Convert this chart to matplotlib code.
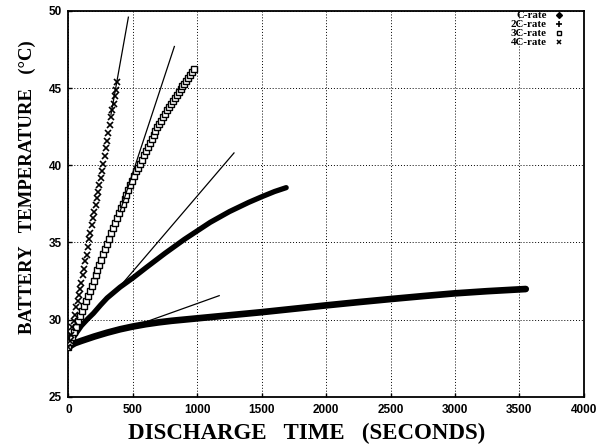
import matplotlib
matplotlib.use('Agg')
import matplotlib.pyplot as plt
from matplotlib.lines import Line2D

# C-rate (1C) discharge
t_1c = [0, 25, 50, 100, 150, 200, 300, 400, 500, 600, 700, 800, 900, 1000,
        1250, 1500, 1750, 2000, 2250, 2500, 2750, 3000, 3250, 3550]
T_1c = [28.2, 28.35, 28.47, 28.62, 28.76, 28.9, 29.15, 29.37, 29.55, 29.7,
        29.82, 29.92, 30.0, 30.08, 30.28, 30.48, 30.7, 30.92, 31.13, 31.33,
        31.52, 31.7, 31.84, 31.98]

# 2C-rate
t_2c = [0, 25, 50, 100, 150, 193, 250, 300, 400, 500, 600, 750, 900, 1000,
        1100, 1250, 1400, 1500, 1600, 1690]
T_2c = [28.2, 28.65, 29.0, 29.6, 30.05, 30.4, 30.95, 31.4, 32.1, 32.7, 33.35,
        34.3, 35.2, 35.75, 36.3, 37.0, 37.6, 37.96, 38.3, 38.55]

# 3C-rate
t_3c = list(range(0, 976, 15))
T_3c = [28.2, 28.55, 28.9, 29.22, 29.55, 29.88, 30.2, 30.53, 30.85, 31.18,
        31.52, 31.85, 32.2, 32.53, 32.87, 33.2, 33.55, 33.88, 34.22, 34.56,
        34.9, 35.24, 35.58, 35.92, 36.25, 36.59, 36.9, 37.2, 37.5, 37.8,
        38.1, 38.4, 38.7, 39.0, 39.3, 39.6, 39.85, 40.11, 40.37, 40.64,
        40.9, 41.16, 41.42, 41.68, 41.95, 42.21, 42.45, 42.68, 42.9, 43.13,
        43.35, 43.58, 43.8, 44.0, 44.18, 44.37, 44.55, 44.74, 44.92, 45.11,
        45.3, 45.49, 45.67, 45.86, 46.05, 46.25]

# 4C-rate
t_4c = [0, 10, 20, 30, 40, 50, 60, 70, 80, 90, 100, 110, 120, 130, 140, 150,
        160, 170, 180, 190, 200, 210, 220, 230, 240, 250, 260, 270, 280, 290,
        300, 310, 320, 330, 340, 350, 360, 370, 380]
T_4c = [28.2, 28.6, 29.0, 29.5, 29.9, 30.3, 30.8, 31.2, 31.6, 32.0, 32.4,
        32.9, 33.3, 33.8, 34.2, 34.7, 35.2, 35.6, 36.1, 36.6, 37.0, 37.4,
        37.9, 38.3, 38.7, 39.2, 39.6, 40.1, 40.6, 41.1, 41.6, 42.1, 42.6,
        43.1, 43.6, 44.0, 44.5, 44.9, 45.4]

# straight tangent lines (start, end) for each rate
tan_t = [[500, 1170], [400, 1285], [400, 822], [330, 465]]
tan_T = [[29.55, 31.55], [32.15, 40.8], [37.0, 47.7], [43.3, 49.6]]

labels = ['C-rate', '2C-rate', '3C-rate', '4C-rate']

fig = plt.figure(figsize=(6.04, 4.45), dpi=100)
ax = fig.add_axes([0.1134, 0.1085, 0.853, 0.8668])

ax.plot(t_1c, T_1c, color='k', lw=4.8, solid_capstyle='round',
        solid_joinstyle='round', zorder=3)
ax.plot(t_2c, T_2c, color='k', lw=3.8, solid_capstyle='round',
        solid_joinstyle='round', zorder=3)
ax.plot(t_3c, T_3c, ls='none', marker='s', ms=4.2, mfc='white', mec='k',
        mew=1.0, zorder=3)
ax.plot(t_4c, T_4c, ls='none', marker='x', ms=5, color='k', mew=1.2,
        zorder=3)
for tt, TT in zip(tan_t, tan_T):
    ax.plot(tt, TT, color='k', lw=0.9, zorder=4)

ax.set_xlim(0, 4000)
ax.set_ylim(25, 50)
ax.set_xticks(range(0, 4001, 500))
ax.set_yticks(range(25, 51, 5))
ax.grid(True, color='k', ls=(0, (1, 2)), lw=0.7)
ax.tick_params(direction='in', length=3, width=1, pad=5, top=False,
               right=False, labelsize=8.5)
for lab in ax.get_xticklabels() + ax.get_yticklabels():
    lab.set_fontweight('bold')
    lab.set_family('Liberation Sans')
for sp in ax.spines.values():
    sp.set_linewidth(1.3)

handles = [
    Line2D([], [], ls='none', marker='D', ms=3, color='k'),
    Line2D([], [], ls='none', marker='+', ms=4, color='k', mew=1.2),
    Line2D([], [], ls='none', marker='s', ms=3.5, mfc='white', mec='k', mew=1),
    Line2D([], [], ls='none', marker='x', ms=3.5, color='k', mew=1.1),
]
fig.legend(handles, labels, loc='upper right', bbox_to_anchor=(0.945, 0.992),
           frameon=False, markerfirst=False, handlelength=0.8,
           handleheight=0.5, handletextpad=0.7, labelspacing=0.0,
           borderpad=0.2,
           prop={'family': 'Liberation Serif', 'weight': 'bold', 'size': 7.8})

fig.text(0.507, 0.027, 'DISCHARGE   TIME   (SECONDS)', ha='center',
         va='center', fontsize=16.5, fontweight='bold',
         family='Liberation Serif')
fig.text(0.045, 0.58, 'BATTERY   TEMPERATURE   (\u00b0C)', ha='center',
         va='center', rotation=90, fontsize=13.5, fontweight='bold',
         family='Liberation Serif')

fig.savefig('out.png', dpi=100)
